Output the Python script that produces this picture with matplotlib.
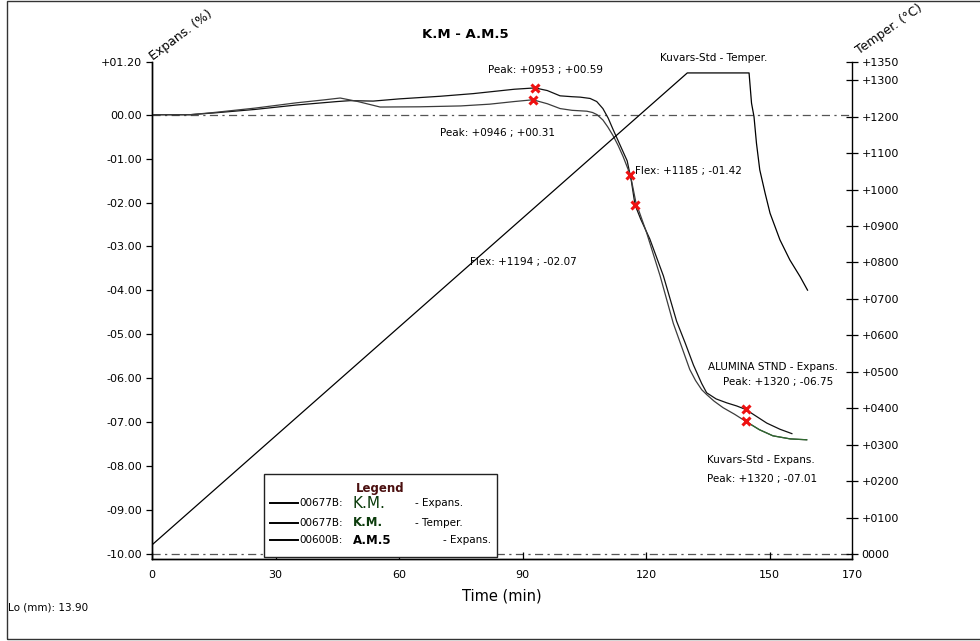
"""
Dilatometer chart: expansion (%) and temperature vs time for K.M / A.M.5.
"""
import matplotlib
matplotlib.use('Agg')
import matplotlib.pyplot as plt
from matplotlib.patches import Rectangle
from matplotlib.lines import Line2D

# expansion curve that ends with the higher peak (+00.59)
exp_a_t = [0, 9.2, 15, 25, 35, 45, 48.1, 53.7, 60, 70, 78, 88, 93.0, 96, 99.1, 102,
           104, 106.4, 108, 109.5, 110.8, 111.9, 113, 114.1, 115.4, 116.4, 117.3,
           118.7, 120.9, 124.2, 127.4, 129.5, 131.5, 133.5, 134.7, 137, 139.6, 142,
           144.2, 147, 149.3, 152.5, 155.4]
exp_a_v = [0, 0, 0.04, 0.12, 0.22, 0.30, 0.32, 0.31, 0.36, 0.42, 0.48, 0.58, 0.61,
           0.55, 0.43, 0.41, 0.40, 0.37, 0.30, 0.14, -0.08, -0.32, -0.55, -0.78,
           -1.05, -1.5, -2.05, -2.38, -2.83, -3.67, -4.70, -5.2, -5.7, -6.12, -6.33,
           -6.47, -6.56, -6.63, -6.71, -6.88, -7.02, -7.16, -7.26]

# expansion curve that ends with the lower peak (+00.31)
exp_b_t = [0, 9.2, 15, 25, 35, 42, 45.7, 50, 55.4, 65, 75, 82, 88, 92.5, 96, 99.1,
           102, 105.6, 107, 108.1, 109.5, 110.7, 112, 113.2, 114.4, 116.2, 117.5,
           120.1, 123.4, 126.6, 130.6, 132, 133.5, 134.7, 136.5, 138.7, 141.5, 144.2,
           147.5, 150.8, 155, 159.0]
exp_b_v = [0, 0, 0.05, 0.15, 0.27, 0.34, 0.38, 0.30, 0.175, 0.18, 0.20, 0.24, 0.30,
           0.34, 0.25, 0.14, 0.10, 0.08, 0.05, 0.0, -0.12, -0.28, -0.48, -0.7, -0.95,
           -1.38, -1.99, -2.68, -3.67, -4.75, -5.80, -6.05, -6.26, -6.37, -6.52,
           -6.67, -6.82, -6.98, -7.17, -7.31, -7.38, -7.40]

# furnace temperature
temp_t = [0, 130.0, 145.0, 145.6, 146.2, 146.8, 147.6, 148.9, 150.1, 152.5, 154.9,
          157.4, 159.2]
temp_v = [25, 1320, 1320, 1237, 1200, 1127, 1054, 990, 935, 862, 807, 761, 724]

# peak / flex markers
mark_t = [93.0, 92.5, 116.2, 117.3, 144.2, 144.2]
mark_v = [0.61, 0.34, -1.38, -2.05, -6.71, -6.98]

exp_ticks = [1.2, 0, -1, -2, -3, -4, -5, -6, -7, -8, -9, -10]
temp_ticks = [0, 100, 200, 300, 400, 500, 600, 700, 800, 900, 1000, 1100, 1200, 1300, 1350]
time_ticks = [0, 30, 60, 90, 120, 150, 170]

annotations = [
    (81.6, 1.02, 'Peak: +0953 ; +00.59'),
    (69.9, -0.41, 'Peak: +0946 ; +00.31'),
    (123.4, 1.28, 'Kuvars-Std - Temper.'),
    (117.3, -1.27, 'Flex: +1185 ; -01.42'),
    (77.2, -3.35, 'Flex: +1194 ; -02.07'),
    (135.0, -5.74, 'ALUMINA STND - Expans.'),
    (138.6, -6.08, 'Peak: +1320 ; -06.75'),
    (134.9, -7.85, 'Kuvars-Std - Expans.'),
    (134.9, -8.30, 'Peak: +1320 ; -07.01'),
]


def fmt_exp(v):
    if v == 0:
        return '00.00'
    sign = '+' if v > 0 else '-'
    return f'{sign}{abs(v):05.2f}'


def fmt_temp(v):
    if v == 0:
        return '0000'
    return f'+{int(v):04d}'


fig = plt.figure(figsize=(9.8, 6.41), dpi=100)
ax = fig.add_axes([152 / 980, 1 - 559 / 641, 700 / 980, 497 / 641])
ax2 = ax.twinx()

dashdot = (0, (6.5, 3.5, 1.8, 3.5))
ax.axhline(0, color='#555555', lw=0.9, ls=dashdot, zorder=1)
ax.axhline(-10, color='#555555', lw=0.9, ls=dashdot, zorder=1)

ax.plot(exp_a_t, exp_a_v, color='#111111', lw=0.9, zorder=3)
ax.plot(exp_b_t, exp_b_v, color='#3c3c3c', lw=0.9, zorder=3)
tail = [i for i, t in enumerate(exp_b_t) if t >= mark_t[-1]]
ax.plot([exp_b_t[i] for i in tail], [exp_b_v[i] for i in tail],
        color='#2f6a2f', lw=0.9, zorder=3)
ax.plot(mark_t, mark_v, ls='none', marker='x', color='#ee1111', ms=6, mew=2.2, zorder=4)

ax2.plot(temp_t, temp_v, color='black', lw=0.9)

ax.set_xlim(0, 170)
ax.set_ylim(-10.114, 1.2)
ax2.set_ylim(-13.7, 1350)

ax.set_xticks(time_ticks)
ax.set_xticklabels([str(t) for t in time_ticks], fontsize=8)
ax.set_yticks(exp_ticks)
ax.set_yticklabels([fmt_exp(v) for v in exp_ticks], fontsize=8)
ax2.set_yticks(temp_ticks)
ax2.set_yticklabels([fmt_temp(v) for v in temp_ticks], fontsize=8)

ax.tick_params(axis='x', direction='in', length=5, width=0.9, pad=8)
ax.tick_params(axis='y', direction='out', length=4, width=0.9, pad=3)
ax2.tick_params(axis='y', direction='inout', length=8, width=0.9, pad=3)

for a in (ax, ax2):
    a.spines['top'].set_visible(False)
    for s in a.spines.values():
        s.set_linewidth(1.0)
ax.spines['right'].set_visible(False)

for x, y, txt in annotations:
    ax.text(x, y, txt, fontsize=7.5, va='center', ha='left', clip_on=False, zorder=5)

ax.set_xlabel('Time (min)', fontsize=10.5, labelpad=6)

fig.text(465 / 980, 1 - 35 / 641, 'K.M - A.M.5', fontsize=9.5, fontweight='bold',
         ha='center', va='center')
fig.text(181 / 980, 1 - 35 / 641, 'Expans. (%)', fontsize=9, rotation=37,
         ha='center', va='center', rotation_mode='anchor')
fig.text(889 / 980, 1 - 29 / 641, 'Temper. (°C)', fontsize=9, rotation=35,
         ha='center', va='center', rotation_mode='anchor')
fig.text(8 / 980, 1 - 607 / 641, 'Lo (mm): 13.90', fontsize=7.5, va='center')

# legend box drawn by hand to get the mixed fonts
box = Rectangle((0.16, 0.004), 0.333, 0.167, transform=ax2.transAxes,
                facecolor='white', edgecolor='#222222', lw=1.0, zorder=6, clip_on=False)
ax2.add_patch(box)
ax2.text(0.326, 0.141, 'Legend', transform=ax2.transAxes, fontsize=8.5,
         fontweight='bold', color='#4b1010', ha='center', va='center', zorder=7)
rows = [
    (0.112, 'K.M.', 11, 'normal', '#0b3b0b', 0.376, '- Expans.'),
    (0.073, 'K.M.', 8.5, 'bold', '#0b3b0b', 0.376, '- Temper.'),
    (0.038, 'A.M.5', 8.5, 'bold', 'black', 0.416, '- Expans.'),
]
codes = ['00677B:', '00677B:', '00600B:']
for (ry, name, fs, fw, col, sx, suffix), code in zip(rows, codes):
    ax2.add_line(Line2D([0.169, 0.209], [ry, ry], transform=ax2.transAxes,
                        color='black', lw=1.4, zorder=7))
    ax2.text(0.211, ry, code, transform=ax2.transAxes, fontsize=7.5,
             va='center', zorder=7)
    ax2.text(0.287, ry, name, transform=ax2.transAxes, fontsize=fs, fontweight=fw,
             color=col, va='center', zorder=7)
    ax2.text(sx, ry, suffix, transform=ax2.transAxes, fontsize=7.5,
             va='center', zorder=7)

# outer frame of the window
fig.add_artist(Rectangle((7 / 980, 1 - 639 / 641), 1.0, 638 / 641,
                         transform=fig.transFigure, fill=False,
                         edgecolor='#333333', lw=1.0))

fig.savefig('out.png', dpi=100)
plt.close(fig)
